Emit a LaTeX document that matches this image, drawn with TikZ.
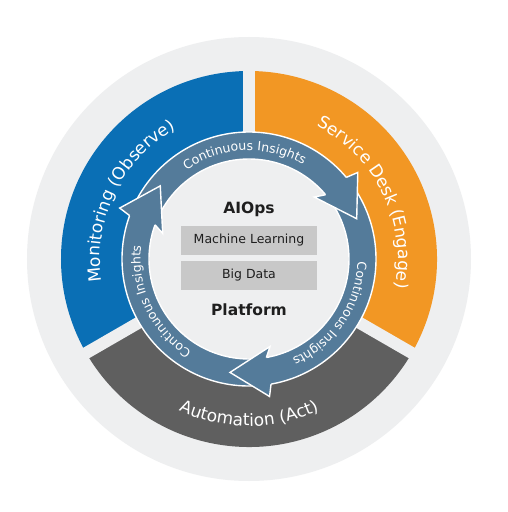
\documentclass[tikz,border=0pt]{standalone}
\usepackage{fontspec}
\setmainfont{DejaVu Sans}
\usepackage{tikz}
\usepackage{xcolor}
\usetikzlibrary{decorations.text}
\definecolor{monblue}{HTML}{0A6FB5}
\definecolor{svcorange}{HTML}{F29724}
\definecolor{autgrey}{HTML}{5F5F5F}
\definecolor{ringblue}{HTML}{547B9A}
\definecolor{bggrey}{HTML}{EEEFF0}
\definecolor{boxgrey}{HTML}{C8C8C8}
\definecolor{txtdark}{HTML}{1E1E1E}
\newcommand{\ringfont}{\color{white}\fontsize{12.5}{12.5}\selectfont}
\newcommand{\segfont}{\color{white}\fontsize{17}{17}\selectfont}
\tikzstyle{gapline}	=[draw=bggrey, line width=12pt]
\tikzstyle{ring}	=[fill=ringblue, draw=white, line width=1.4pt, even odd rule]
\tikzstyle{arrhead}	=[fill=ringblue, draw=white, line width=1.4pt, line join=miter]
\tikzstyle{layerbox}	=[fill=boxgrey, minimum width=136pt, minimum height=29pt, inner sep=0pt, text=txtdark, font=\fontsize{12.5}{12.5}\selectfont]
\tikzstyle{titletext}	=[anchor=base, text=txtdark, font=\bfseries\fontsize{15.5}{15.5}\selectfont]
\tikzstyle{ringtext}	=[decorate, decoration={text along path, text align=center, text={|\ringfont|Continuous Insights}}]
\tikzstyle{segtext}	=[decorate, decoration={text along path, text align=center}]

\begin{document}
\begin{tikzpicture}[x=1pt, y=1pt]
	\useasboundingbox (-249,-253) rectangle (259,259);
	\fill[white] (-249,-253) rectangle (259,259);
	\fill[bggrey] (0,0) circle (222);
	
	%%%%% outer segments
	\foreach \a/\b/\col in {90/210/monblue, 210/330/autgrey, -30/90/svcorange}
	\fill[\col] (0,0) -- (\a:188) arc[start angle=\a, end angle=\b, radius=188] -- cycle;
	\foreach \g in {90,210,330} \draw[gapline] (0,0) -- (\g:195);
	
	%%%%% cycle of arrows
	\fill[bggrey] (0,0) circle (100);
	\path[ring] (0,0) circle (127) (0,0) circle (100);
	\foreach \b in {40,160,280}
	\path[arrhead] (\b:127) -- ({\b-1.5}:139) -- ({\b-19.5}:115) -- ({\b+3.5}:90) -- (\b:100);
	
	\foreach \c in {92.5,-34,205.5}
	\path[ringtext] ({\c+60}:108.5) arc[start angle=\c+60, end angle=\c-60, radius=108.5];
	
	%%%% labels of the segments
	\path[segtext, decoration={text={|\segfont|Monitoring (Observe)}}] (214:149) arc[start angle=214, end angle=94, radius=149];
	\path[segtext, decoration={text={|\segfont|Service Desk (Engage)}}] (86:149) arc[start angle=86, end angle=-34, radius=149];
	\path[segtext, decoration={text={|\segfont|Automation (Act)}}] (210:167) arc[start angle=210, end angle=330, radius=167];
	
	%%%% platform
	\node[titletext] (aiops) at (0,46) {AIOps};
	\node[layerbox] (ml) at (0,18.5) {Machine Learning};
	\node[layerbox] (bd) at (0,-16) {Big Data};
	\node[titletext] (platform) at (0,-56) {Platform};
\end{tikzpicture}
\end{document}
